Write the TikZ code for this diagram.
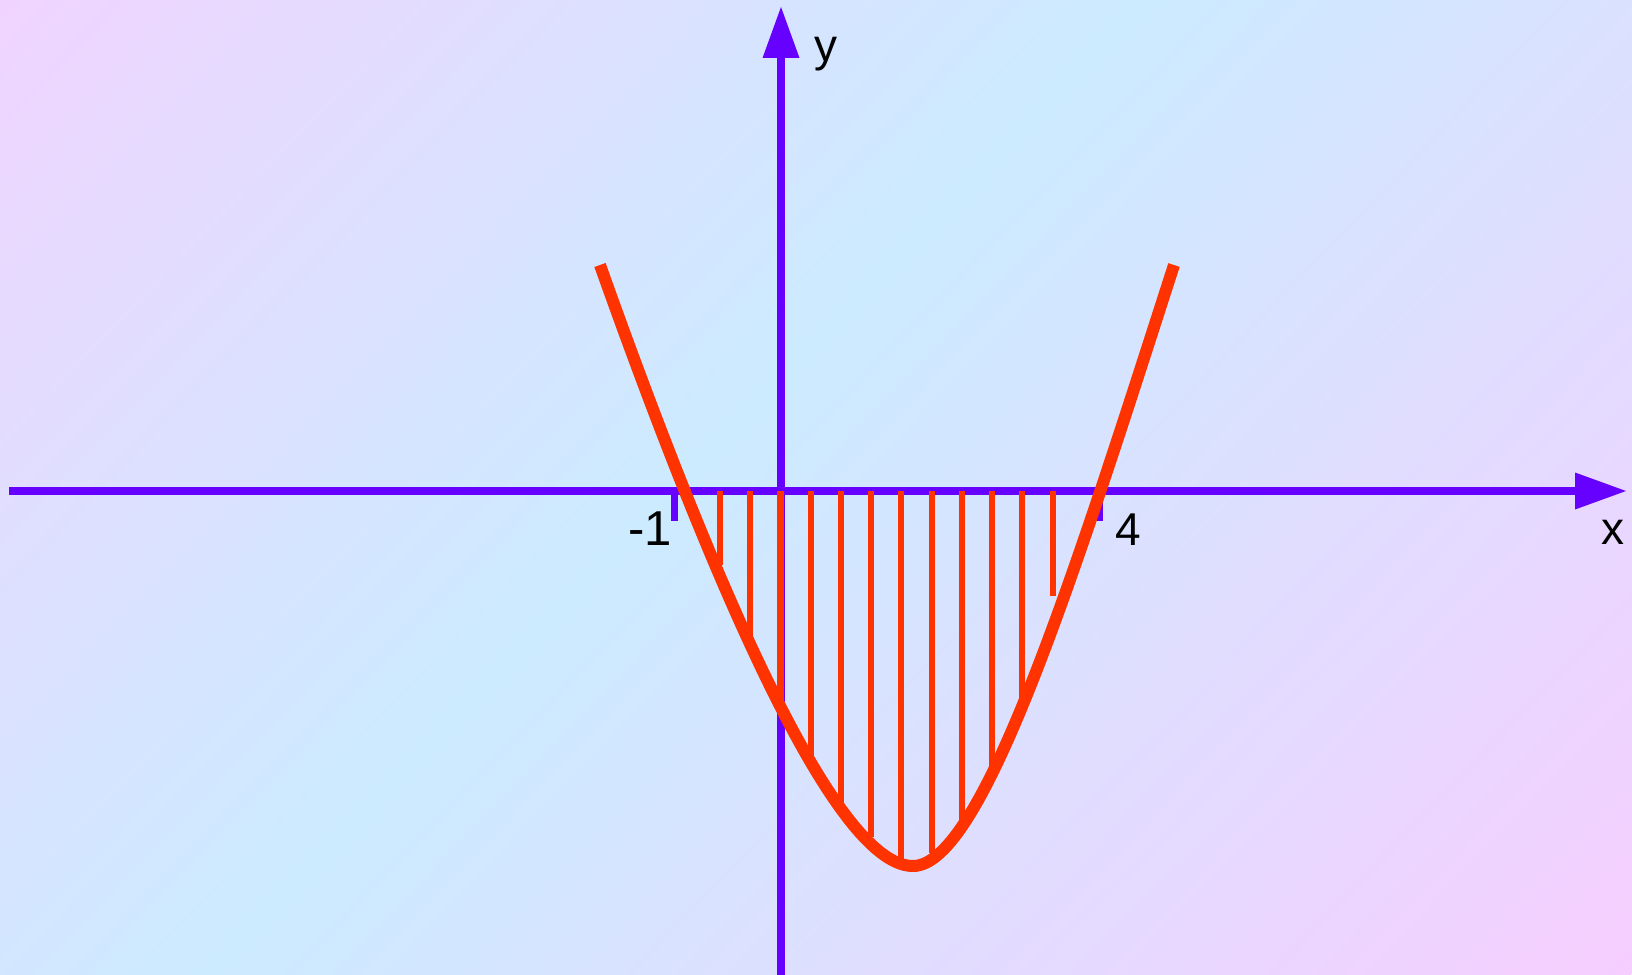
\documentclass[tikz,border=0pt]{standalone}
\usepackage{fontspec}
\setmainfont{Liberation Sans}
\definecolor{cTL}{HTML}{F0D4FF}
\definecolor{cMid}{HTML}{CCEBFF}
\definecolor{cBR}{HTML}{F6CEFF}
\definecolor{axiscol}{HTML}{6600FF}
\definecolor{curvecol}{HTML}{FF3300}
\pgfdeclarehorizontalshading{bgshade}{100bp}{color(0bp)=(cTL); color(25bp)=(cTL); color(47.3bp)=(cMid); color(75bp)=(cBR); color(100bp)=(cBR)}
\tikzset{
  axisline/.style={draw=axiscol, line width=8pt},
  tickline/.style={draw=axiscol, line width=7pt},
  hatchline/.style={draw=curvecol, line width=6pt},
  curveline/.style={draw=curvecol, line width=12pt, line join=round},
  lab/.style={inner sep=0pt, font=\fontsize{46}{52}\selectfont, text=black}
}
\begin{document}
\begin{tikzpicture}[x=1pt, y=-1pt]
\useasboundingbox (0,0) rectangle (1632,974);
% background gradient
\begin{scope}
\clip (0,0) rectangle (1632,974);
\shade[shading=bgshade, transform canvas={rotate=-43.9}] (0,-2200) rectangle (1851,2200);
\end{scope}
% axes
\coordinate (xs) at (9,491);
\coordinate (xe) at (1576,491);
\coordinate (xt) at (1626,491);
\coordinate (xb1) at (1575,472.5);
\coordinate (xb2) at (1575,509.5);
\coordinate (ys) at (781,990);
\coordinate (ye) at (781,57);
\coordinate (yt) at (781,7);
\coordinate (yb1) at (762.5,58);
\coordinate (yb2) at (799.5,58);
\draw[axisline] (xs) -- (xe);
\draw[axisline] (ys) -- (ye);
\fill[axiscol] (xt) -- (xb1) -- (xb2) -- cycle;
\fill[axiscol] (yt) -- (yb1) -- (yb2) -- cycle;
% ticks
\coordinate (t1a) at (674.5,491);
\coordinate (t1b) at (674.5,521);
\coordinate (t4a) at (1099.5,491);
\coordinate (t4b) at (1099.5,521);
\draw[tickline] (t1a) -- (t1b);
\draw[tickline] (t4a) -- (t4b);
% hatch lines
\foreach \hx/\hy [count=\i] in {720/565, 750/645, 811/762, 841/807, 871/837, 901/862, 932/853, 962/823, 992/773, 1022/702, 1053/596}{
  \coordinate (ha\i) at (\hx,491);
  \coordinate (hb\i) at (\hx,\hy);
  \draw[hatchline] (ha\i) -- (hb\i);
}
\coordinate (hy0) at (780.5,491);
\coordinate (hy1) at (780.5,702);
\draw[hatchline, line width=7pt] (hy0) -- (hy1);
% curve
\coordinate (cl) at (600,265);
\coordinate (cv) at (913,866);
\coordinate (cr) at (1174,265);
\draw[curveline] (cl) .. controls (742.5,665.7) and (846.8,866) .. (cv)
                      .. controls (983,866) and (1075.8,569.3) .. (cr);
% labels
\node[lab, anchor=base, font=\fontsize{49}{54}\selectfont] (lm1) at (650,545) {-1};
\node[lab, anchor=base] (l4) at (1128.5,545) {4};
\node[lab, anchor=base] (lx) at (1612.5,544) {x};
\node[lab, anchor=base] (ly) at (826,62) {y};
\end{tikzpicture}
\end{document}
